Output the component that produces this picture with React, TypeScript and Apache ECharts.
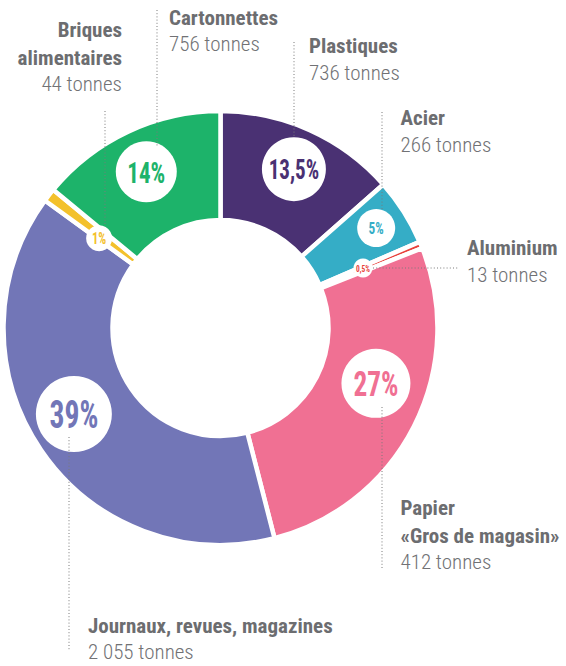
import React, { useEffect, useRef } from "react";
import * as echarts from "echarts";

// ---- data ----
const categories = [
  "Plastiques",
  "Acier",
  "Aluminium",
  "Papier «Gros de magasin»",
  "Journaux, revues, magazines",
  "Briques alimentaires",
  "Cartonnettes",
];
const shares = [13.5, 5, 0.5, 27, 39, 1, 14];
const shareLabels = ["13,5%", "5%", "0,5%", "27%", "39%", "1%", "14%"];
const titleLines = [
  ["Plastiques"],
  ["Acier"],
  ["Aluminium"],
  ["Papier", "«Gros de magasin»"],
  ["Journaux, revues, magazines"],
  ["Briques", "alimentaires"],
  ["Cartonnettes"],
];
const tonnes = [
  "736 tonnes",
  "266 tonnes",
  "13 tonnes",
  "412 tonnes",
  "2 055 tonnes",
  "44 tonnes",
  "756 tonnes",
];

// ---- styles ----
const colors = ["#4a3173", "#35adc6", "#e8413b", "#f07093", "#7276b7", "#f3c12c", "#1db36a"];
const CX = 220.5;
const CY = 328;
const FONT = '"Roboto Condensed", Roboto, sans-serif';
const TEXT_GREY = "#6c6d70";
// bubble radius, font size, polar position [deg clockwise from top, radius px]
const bubbleR = [32, 19, 9.5, 34.5, 38, 13, 30.5];
const bubbleFont = [27, 17, 9.5, 35, 38, 16, 29.5];
const BUBBLE_SCALE_X = 0.78;
const bubblePolar: [number, number][] = [
  [24.8, 175],
  [57.3, 185],
  [67.2, 154.6],
  [109.6, 165],
  [239.6, 170],
  [306.5, 151],
  [334.6, 173],
];
// outside label anchors: x, y (cap centre of first line), alignment
const outLabel: { x: number; y: number; align: string }[] = [
  { x: 309, y: 46, align: "left" },
  { x: 400.5, y: 118, align: "left" },
  { x: 467, y: 248, align: "left" },
  { x: 400.5, y: 507.5, align: "left" },
  { x: 88, y: 625.5, align: "left" },
  { x: 122, y: 29.5, align: "right" },
  { x: 169, y: 17.5, align: "left" },
];
const BOLD_GAP = 28;
const TONNES_GAP = 26.5;
// dotted leader lines
const leaders: [number, number, number, number][] = [
  [294, 42, 294, 137],
  [382, 112, 382, 210],
  [373, 268, 458, 268],
  [382, 407, 382, 569],
  [69, 437, 69, 650],
  [105, 111, 105, 226],
  [157, 10, 157, 146],
];

export default function App() {
  const ref = useRef<HTMLDivElement>(null);
  useEffect(() => {
    if (!ref.current) return;
    const chart = echarts.init(ref.current, undefined, { renderer: "svg" });

    const data = categories.map((name, i) => ({
      name,
      value: shares[i],
      itemStyle: { color: colors[i] },
    }));

    const graphics: any[] = [];
    // percentage bubbles
    categories.forEach((_, i) => {
      const [a, r] = bubblePolar[i];
      const rad = (a * Math.PI) / 180;
      const bx = CX + r * Math.sin(rad);
      const by = CY - r * Math.cos(rad);
      graphics.push({
        type: "circle",
        z: 100,
        silent: true,
        shape: { cx: bx, cy: by, r: bubbleR[i] },
        style: { fill: "#fff" },
      });
      graphics.push({
        type: "text",
        z: 101,
        silent: true,
        x: bx,
        y: by + bubbleFont[i] * 0.02,
        scaleX: BUBBLE_SCALE_X,
        style: {
          text: shareLabels[i],
          fill: colors[i],
          fontSize: bubbleFont[i],
          fontWeight: "bold",
          fontFamily: FONT,
          align: "center",
          verticalAlign: "middle",
        },
      });
    });
    leaders.forEach(([x1, y1, x2, y2]) => {
      graphics.push({
        type: "line",
        z: 102,
        silent: true,
        shape: { x1, y1, x2, y2 },
        style: { stroke: "#7a7a7a", lineWidth: 1, lineDash: [1, 2.2] },
      });
    });
    categories.forEach((_, i) => {
      const o = outLabel[i];
      const lines = titleLines[i];
      lines.forEach((t, k) => {
        graphics.push({
          type: "text",
          z: 100,
          x: o.x,
          y: o.y + k * BOLD_GAP,
          style: {
            text: t,
            fill: TEXT_GREY,
            fontSize: 21,
            fontWeight: "bold",
            fontFamily: FONT,
            align: o.align,
            verticalAlign: "middle",
          },
        });
      });
      graphics.push({
        type: "text",
        z: 100,
        x: o.x,
        y: o.y + (lines.length - 1) * BOLD_GAP + TONNES_GAP,
        style: {
          text: tonnes[i],
          fill: "#717275",
          fontSize: 21,
          fontWeight: 300,
          fontFamily: FONT,
          align: o.align,
          verticalAlign: "middle",
        },
      });
    });

    chart.setOption({
      animation: false,
      textStyle: { fontFamily: FONT },
      graphic: graphics,
      series: [
        {
          type: "pie",
          silent: true,
          center: [CX, CY],
          radius: [108, 217],
          startAngle: 90,
          clockwise: true,
          avoidLabelOverlap: false,
          itemStyle: { borderColor: "#fff", borderWidth: 4.5 },
          label: { show: false },
          labelLine: { show: false },
          emphasis: { disabled: true },
          data,
        },
      ],
    });
    return () => chart.dispose();
  }, []);
  return (
    <div
      ref={ref}
      style={{ position: "absolute", left: 0, top: 0, width: 566, height: 666, background: "#fff" }}
    />
  );
}
